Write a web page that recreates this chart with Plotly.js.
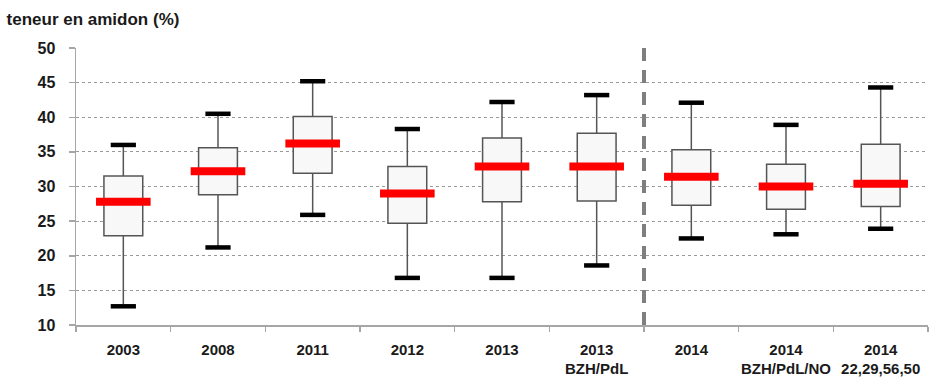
<!DOCTYPE html>
<html>
<head>
<meta charset="utf-8">
<script src="https://cdn.plot.ly/plotly-3.0.1.min.js"></script>
<style>html,body{margin:0;padding:0;background:#fff;}#chart{width:939px;height:387px;}</style>
</head>
<body>
<div id="chart"></div>
<script>
const categories = ["2003", "2008", "2011", "2012", "2013", "2013<br>BZH/PdL", "2014", "2014<br>BZH/PdL/NO", "2014<br>22,29,56,50"];
const minVals    = [12.7, 21.2, 25.9, 16.8, 16.8, 18.6, 22.5, 23.1, 23.9];
const q1Vals     = [22.9, 28.8, 31.9, 24.7, 27.8, 27.9, 27.3, 26.7, 27.1];
const medianVals = [27.8, 32.2, 36.2, 29.0, 32.9, 32.9, 31.4, 30.0, 30.4];
const q3Vals     = [31.5, 35.6, 40.1, 32.9, 37.0, 37.7, 35.3, 33.2, 36.1];
const maxVals    = [36.0, 40.5, 45.2, 38.3, 42.2, 43.2, 42.1, 38.9, 44.3];
const yTicks     = [10, 15, 20, 25, 30, 35, 40, 45, 50];

const boxTrace = {
  type: 'box',
  x: categories,
  q1: q1Vals,
  median: medianVals,
  q3: q3Vals,
  lowerfence: minVals,
  upperfence: maxVals,
  width: 0.41,
  fillcolor: '#f8f8f8',
  line: {color: '#555555', width: 1.5},
  whiskerwidth: 0,
  boxpoints: false,
  hoverinfo: 'skip',
  showlegend: false
};
const medianTrace = {
  type: 'scatter', mode: 'markers',
  x: categories, y: medianVals,
  marker: {symbol: 'line-ew', size: 39, line: {color: '#ff0000', width: 8}},
  hoverinfo: 'skip', showlegend: false
};
const capTrace = {
  type: 'scatter', mode: 'markers',
  x: categories.concat(categories), y: minVals.concat(maxVals),
  marker: {symbol: 'line-ew', size: 18, line: {color: '#000000', width: 4.5}},
  hoverinfo: 'skip', showlegend: false
};

const font = {family: '"Liberation Sans", Arial, sans-serif', color: '#1a1a1a'};
const layout = {
  width: 939, height: 387,
  margin: {l: 76, r: 11, t: 48, b: 62},
  paper_bgcolor: '#ffffff', plot_bgcolor: '#ffffff',
  font: font,
  showlegend: false,
  title: {text: '<b>teneur en amidon (%)</b>', x: 0.007, xanchor: 'left', xref: 'container', y: 0.95, yanchor: 'middle', yref: 'container',
          font: {family: font.family, size: 17, color: '#1a1a1a'}},
  xaxis: {
    type: 'category', categoryorder: 'array', categoryarray: categories,
    range: [-0.5, categories.length - 0.5],
    showline: true, linecolor: '#a6a6a6', linewidth: 1.5,
    ticks: 'outside', tickson: 'boundaries', ticklen: 5, tickcolor: '#a6a6a6', tickwidth: 1.5,
    showgrid: false, zeroline: false, tickangle: 0,
    tickfont: {family: font.family, size: 15, color: '#1a1a1a', weight: 'bold'},
    ticklabelstandoff: 10
  },
  yaxis: {
    range: [10, 50], tickvals: yTicks, ticktext: yTicks.map(String),
    showline: true, linecolor: '#a6a6a6', linewidth: 1.5,
    ticks: 'outside', ticklen: 6, tickcolor: '#a6a6a6', tickwidth: 1.5,
    showgrid: true, gridcolor: '#9a9a9a', gridwidth: 1, griddash: '3px,3px',
    zeroline: false,
    tickfont: {family: font.family, size: 16, color: '#1a1a1a', weight: 'bold'},
    ticklabelstandoff: 10
  },
  shapes: [{
    type: 'line', xref: 'x', yref: 'paper',
    x0: 5.5, x1: 5.5, y0: 0, y1: 1.02,
    line: {color: '#7f7f7f', width: 4, dash: '13px,9px'}
  }]
};

Plotly.newPlot('chart', [boxTrace, medianTrace, capTrace], layout, {staticPlot: true, displayModeBar: false});
</script>
</body>
</html>
